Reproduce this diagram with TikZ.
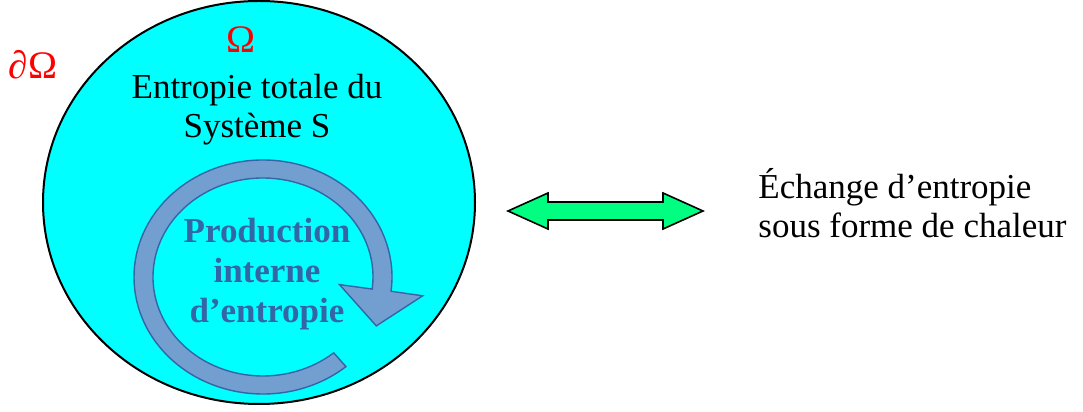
\documentclass[tikz,border=0pt]{standalone}
\usepackage{fontspec}
\setmainfont{Liberation Serif}
\usetikzlibrary{calc}
\definecolor{syscyan}{RGB}{0,255,255}
\definecolor{ringblue}{RGB}{114,159,207}
\definecolor{ringedge}{RGB}{52,101,164}
\definecolor{heatgreen}{RGB}{0,255,128}

\begin{document}
\begin{tikzpicture}[x=0.5pt,y=0.5pt,
	txt/.style={font=\fontsize{17.5}{19.5}\selectfont, inner sep=0pt},
	redtxt/.style={font=\fontsize{19.5}{21}\selectfont, text=red, inner sep=0pt},
	boldtxt/.style={font=\fontsize{17.5}{20}\selectfont\bfseries, text=ringedge, inner sep=0pt}]
	\useasboundingbox (0,0) rectangle (1083,412);
	
	% systeme
	\draw[fill=syscyan, line width=1pt] (259,209.5) ellipse [x radius=216, y radius=201.5];
	
	% fleche circulaire
	\coordinate (c) at (263,135);
	\filldraw[fill=ringblue, draw=ringedge, line width=0.7pt]
		($(c)+(-50:129 and 117)$) arc [start angle=-50, end angle=-367, x radius=129, y radius=117]
		-- (422.7,116.2) -- (376.3,86.1) -- (339.5,127.4)
		-- ($(c)+(-7:110 and 99)$) arc [start angle=-367, end angle=-50, x radius=110, y radius=99]
		-- cycle;
	
	% echange
	\coordinate (la) at (508,201);
	\coordinate (ra) at (703,201);
	\draw[fill=heatgreen, line width=0.8pt] (la) -- ++(40,18) -- ++(0,-9) -- ++(115,0) -- ++(0,9)
		-- (ra) -- ++(-40,-18) -- ++(0,9) -- ++(-115,0) -- ++(0,-9) -- cycle;
	
	\node[redtxt, anchor=base] (omega) at (241,359) {Ω};
	\node[redtxt, anchor=base] (bdry) at (33,333) {∂Ω};
	\node[txt, align=center, anchor=base] (total) at (257,274) {Entropie totale du\\Système S};
	\node[boldtxt, align=center, anchor=base] (prod) at (267,89) {Production\\interne\\d’entropie};
	\node[txt, align=left, anchor=base west] (exch) at (758,174) {Échange d’entropie\\sous forme de chaleur};
	
\end{tikzpicture}
\end{document}
